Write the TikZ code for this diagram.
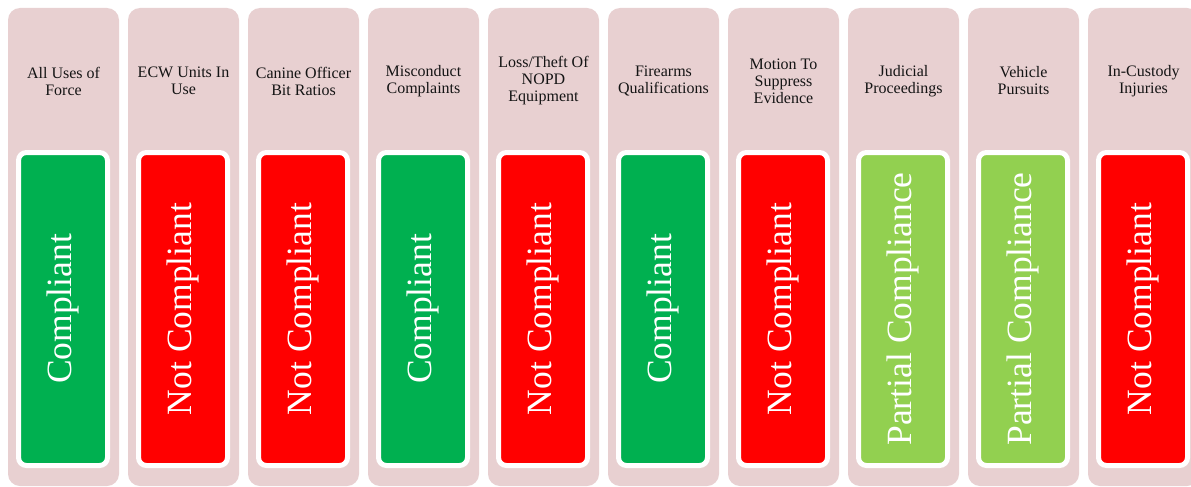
\documentclass[tikz,border=0pt]{standalone}
\usepackage{fontspec}
\setmainfont{Liberation Serif}
\definecolor{pinkbg}{RGB}{232,208,209}
\definecolor{okgreen}{RGB}{0,176,80}
\definecolor{badred}{RGB}{255,0,0}
\definecolor{partgreen}{RGB}{146,208,80}
\definecolor{headtext}{RGB}{20,20,20}
\begin{document}
\begin{tikzpicture}[x=1pt,y=-1pt,
  colbg/.style={fill=pinkbg, rounded corners=12pt, minimum width=111pt, minimum height=478pt, inner sep=0pt, draw=none},
  head/.style={align=center, font=\fontsize{16}{17}\selectfont, text=headtext, inner sep=0pt},
  stat/.style={draw=white, line width=5pt, rounded corners=8pt, rotate=90, minimum width=313pt, minimum height=89pt, inner sep=0pt, text=white, font=\fontsize{35.5}{38}\selectfont}]
\useasboundingbox (0,0) rectangle (1191,487);
\clip (0,0) rectangle (1191,487);
\fill[white] (0,0) rectangle (1191,487);
\foreach \i/\hd/\col/\txt in {
  0/{All Uses of\\Force}/okgreen/Compliant,
  1/{ECW Units In\\Use}/badred/Not Compliant,
  2/{Canine Officer\\Bit Ratios}/badred/Not Compliant,
  3/{Misconduct\\Complaints}/okgreen/Compliant,
  4/{Loss/Theft Of\\NOPD\\Equipment}/badred/Not Compliant,
  5/{Firearms\\Qualifications}/okgreen/Compliant,
  6/{Motion To\\Suppress\\Evidence}/badred/Not Compliant,
  7/{Judicial\\Proceedings}/partgreen/Partial Compliance,
  8/{Vehicle\\Pursuits}/partgreen/Partial Compliance,
  9/{In-Custody\\Injuries}/badred/Not Compliant}{
  \node[colbg] (c\i) at ({63.5+120*\i},247) {};
  \node[head] (h\i) at ({63.5+120*\i},81) {\hd};
  \node[stat, fill=\col] (s\i) at ({63+120*\i},309) {\txt};
}
\end{tikzpicture}
\end{document}
